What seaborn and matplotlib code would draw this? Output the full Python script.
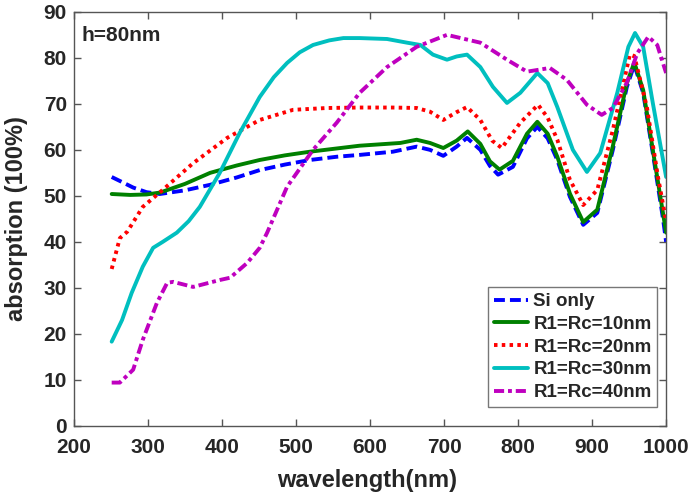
import matplotlib
matplotlib.use("Agg")
import matplotlib.pyplot as plt
import seaborn as sns
import pandas as pd

# ---- data ----
wl_si = [251, 265, 280, 298, 316, 350, 384, 420, 451, 485, 519, 555, 586, 631, 663, 681, 699, 717, 731, 749, 762, 773, 793, 812, 826, 840, 853, 870, 888, 907, 928, 947, 957, 969, 982, 996, 1000]
ab_si = [54.1, 53.0, 51.8, 50.8, 50.4, 51.2, 52.4, 54.0, 55.6, 56.8, 57.8, 58.5, 58.9, 59.6, 60.7, 60.0, 58.7, 60.7, 62.6, 60.0, 56.5, 54.6, 56.3, 62.5, 65.0, 62.5, 57.8, 49.8, 43.7, 46.3, 60.0, 73.7, 78.5, 72.4, 59.3, 44.8, 40.0]

wl_10 = [251, 276, 298, 316, 350, 384, 420, 451, 485, 519, 555, 586, 641, 663, 681, 699, 717, 732, 749, 762, 775, 793, 812, 826, 840, 853, 870, 888, 907, 928, 947, 957, 969, 982, 996, 1000]
ab_10 = [50.4, 50.2, 50.3, 50.7, 52.6, 55.0, 56.6, 57.8, 58.8, 59.6, 60.3, 60.9, 61.5, 62.2, 61.5, 60.4, 62.0, 64.0, 61.3, 57.5, 55.7, 57.6, 63.5, 66.1, 63.5, 58.5, 50.5, 44.3, 47.0, 60.8, 74.5, 79.0, 73.0, 60.0, 46.0, 42.0]

wl_20 = [251, 262, 272, 293, 320, 361, 407, 451, 496, 542, 586, 630, 663, 681, 699, 717, 731, 749, 765, 778, 803, 827, 840, 853, 870, 888, 907, 928, 951, 957, 974, 989, 1000]
ab_20 = [34.1, 40.8, 42.2, 47.6, 51.3, 57.1, 62.6, 66.5, 68.7, 69.1, 69.2, 69.2, 69.1, 68.3, 66.5, 68.2, 69.3, 66.5, 62.0, 60.4, 65.9, 69.8, 67.0, 62.2, 53.5, 48.0, 51.3, 64.3, 80.7, 80.4, 69.3, 54.1, 44.5]

wl_30 = [251, 265, 278, 293, 307, 320, 339, 355, 370, 397, 424, 451, 470, 488, 505, 523, 545, 564, 586, 623, 650, 668, 685, 704, 717, 731, 749, 766, 785, 803, 826, 840, 853, 874, 893, 911, 934, 949, 958, 969, 982, 1000]
ab_30 = [18.3, 23.0, 28.9, 34.6, 38.7, 40.0, 42.0, 44.5, 47.6, 55.0, 63.7, 71.5, 75.8, 78.9, 81.2, 82.8, 83.8, 84.3, 84.3, 84.1, 83.3, 82.8, 80.7, 79.6, 80.3, 80.7, 78.0, 73.7, 70.2, 72.4, 76.7, 74.5, 69.3, 60.0, 55.2, 59.3, 72.4, 82.4, 85.4, 82.4, 70.2, 54.1]

wl_40 = [251, 262, 280, 293, 312, 326, 334, 361, 397, 411, 434, 451, 461, 488, 523, 555, 586, 623, 663, 704, 749, 785, 812, 843, 866, 893, 913, 928, 947, 961, 976, 988, 1000]
ab_40 = [9.4, 9.4, 12.2, 18.7, 26.7, 31.1, 31.3, 30.2, 31.7, 32.2, 35.4, 38.7, 42.0, 52.0, 60.0, 65.9, 72.4, 78.0, 82.4, 85.0, 83.3, 79.6, 77.0, 77.8, 75.2, 69.8, 67.6, 69.1, 74.6, 81.0, 84.6, 82.8, 76.7]

labels = ["Si only", "R1=Rc=10nm", "R1=Rc=20nm", "R1=Rc=30nm", "R1=Rc=40nm"]
xticks = [200, 300, 400, 500, 600, 700, 800, 900, 1000]
yticks = [0, 10, 20, 30, 40, 50, 60, 70, 80, 90]

sns.set_style("ticks")
plt.rcParams['font.family'] = ['Liberation Sans', 'DejaVu Sans']
plt.rcParams['font.weight'] = 'bold'

fig = plt.figure(figsize=(6.91, 4.94), dpi=100)
ax = fig.add_axes([0.107, 0.138, 0.857, 0.838])

series = [
    (wl_si, ab_si, labels[0], "#0000ff", (0, (2.8, 1.3))),
    (wl_10, ab_10, labels[1], "#008000", "-"),
    (wl_20, ab_20, labels[2], "#ff0000", (0, (0.9, 1.1))),
    (wl_30, ab_30, labels[3], "#00bfbf", "-"),
    (wl_40, ab_40, labels[4], "#bf00bf", (0, (2.6, 1.0, 1.0, 1.0))),
]
for x, y, lab, col, ls in series:
    df = pd.DataFrame({"w": x, "a": y})
    sns.lineplot(data=df, x="w", y="a", ax=ax, color=col, linewidth=2.8,
                 linestyle=ls, label=lab, sort=False)

ax.set_xlim(200, 1000)
ax.set_ylim(0, 90)
ax.set_xticks(xticks)
ax.set_yticks(yticks)
ax.tick_params(axis="both", direction="in", top=True, right=True, length=5,
               width=1, color="#555555", labelsize=15)
ax.tick_params(axis="x", pad=8.5)
ax.tick_params(axis="y", pad=5)
for lbl in ax.get_xticklabels() + ax.get_yticklabels():
    lbl.set_fontweight("bold")
for s in ax.spines.values():
    s.set_color("#555555")
    s.set_linewidth(1.0)
ax.set_xlabel("wavelength(nm)", fontsize=17, fontweight="bold")
ax.set_ylabel("absorption (100%)", fontsize=17, fontweight="bold")
ax.xaxis.set_label_coords(0.495, -0.104)
ax.yaxis.set_label_coords(-0.078, 0.5)
ax.text(0.012, 0.965, "h=80nm", transform=ax.transAxes, fontsize=15,
        fontweight="bold", ha="left", va="top")

leg = ax.legend(loc="lower right", bbox_to_anchor=(0.985, 0.046), frameon=True,
                fancybox=False, edgecolor="#555555", fontsize=13.5,
                handlelength=1.8, handletextpad=0.3, borderpad=0.3,
                labelspacing=0.3, borderaxespad=0.0)
leg.get_frame().set_linewidth(1.0)
for t in leg.get_texts():
    t.set_fontweight("bold")

fig.savefig("out.png", dpi=100)
